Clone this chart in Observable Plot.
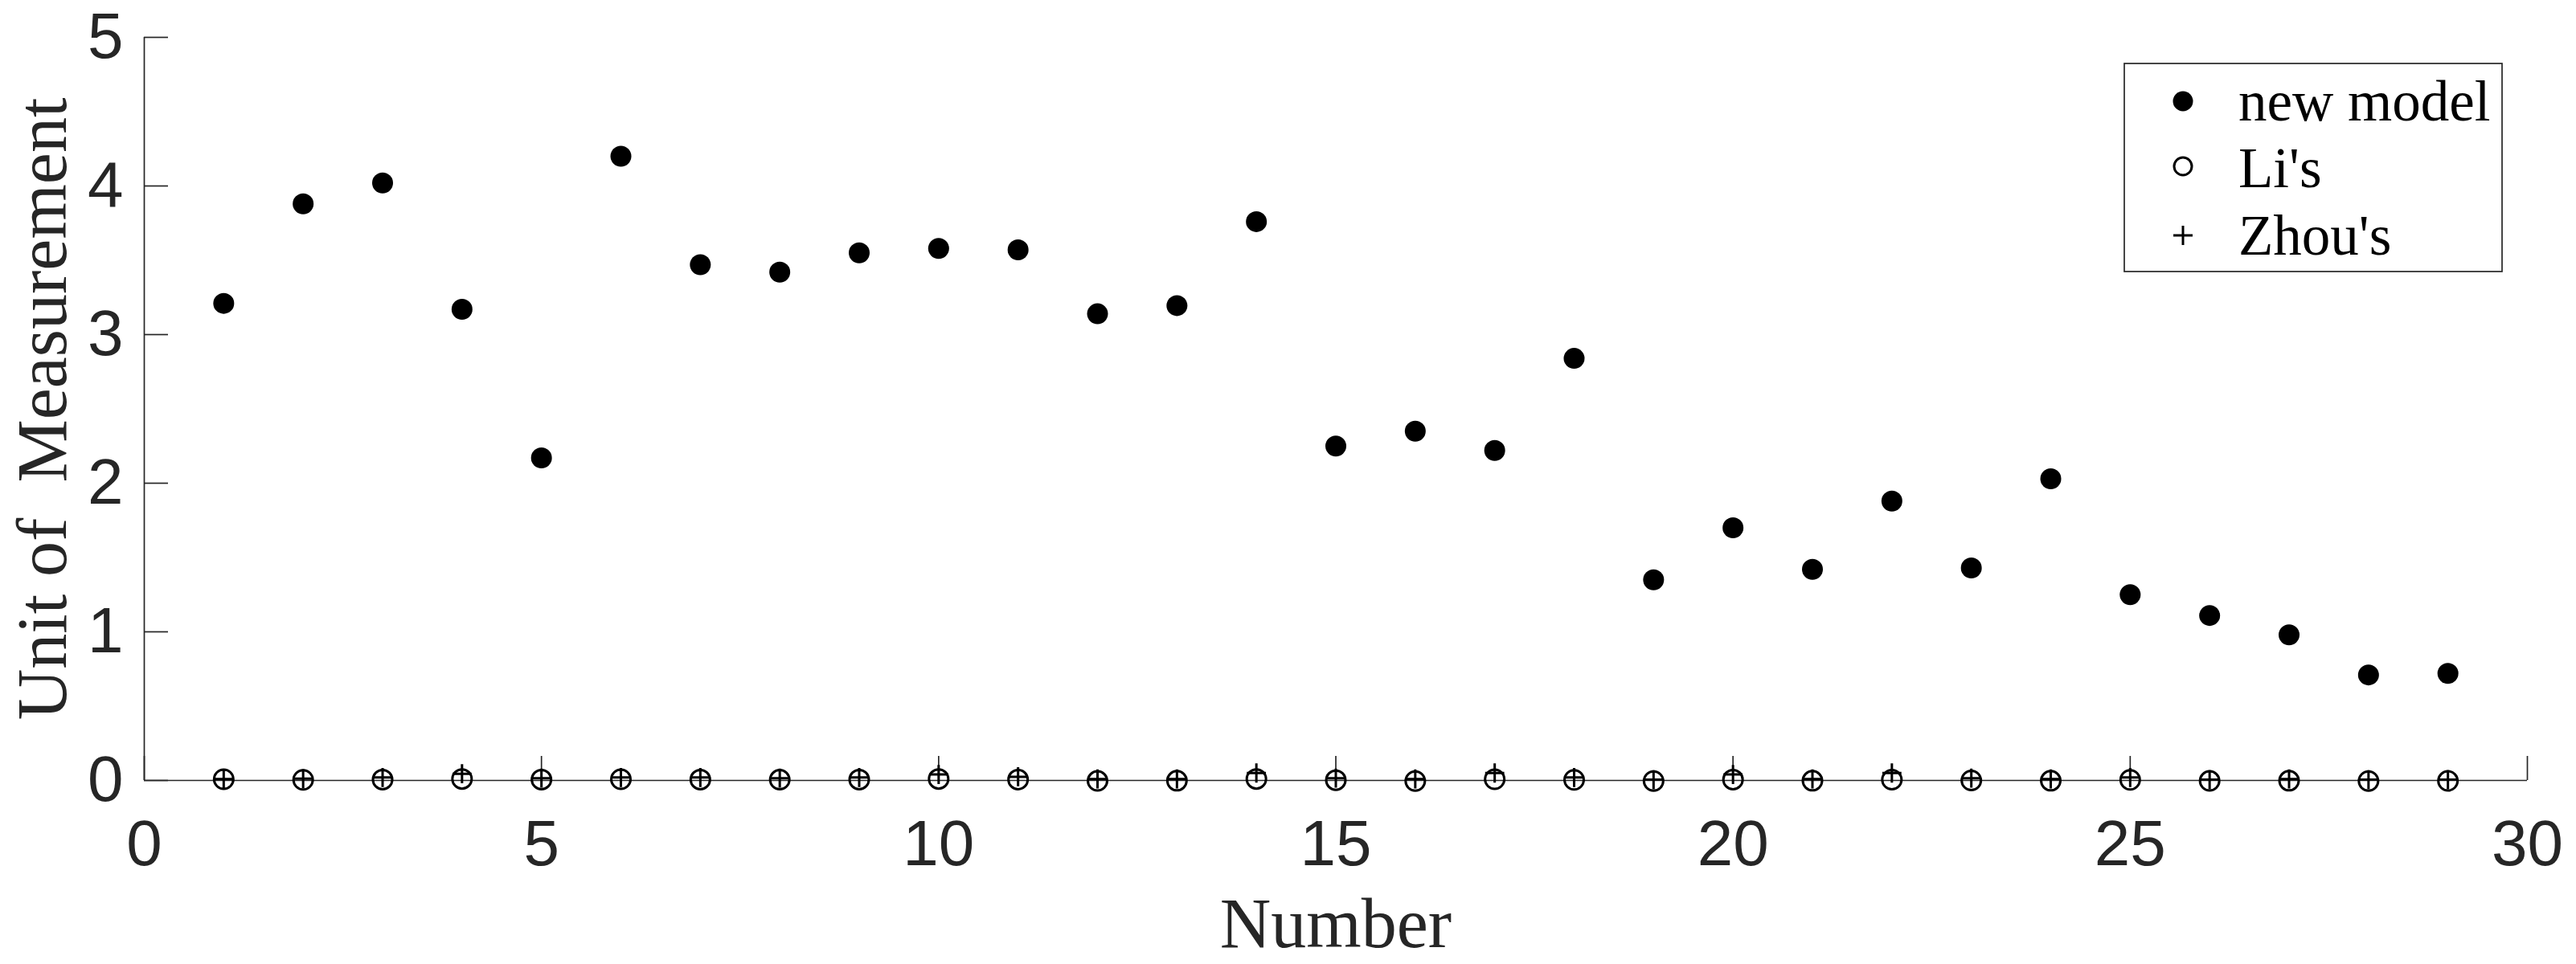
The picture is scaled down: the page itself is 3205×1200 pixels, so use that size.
<!DOCTYPE html>
<html>
<head>
<meta charset="utf-8">
<script src="https://cdn.jsdelivr.net/npm/d3@7"></script>
<script src="https://cdn.jsdelivr.net/npm/@observablehq/plot@0.6"></script>
<style>
  html, body { margin: 0; padding: 0; background: #fff; }
  #wrap { position: relative; width: 3205px; height: 1200px; }
</style>
</head>
<body>
<div id="wrap"></div>
<script>
// ---- data ----
const numbers = [1, 2, 3, 4, 5, 6, 7, 8, 9, 10, 11, 12, 13, 14, 15, 16, 17, 18, 19, 20, 21, 22, 23, 24, 25, 26, 27, 28, 29];
const newModel = [3.21, 3.88, 4.02, 3.17, 2.17, 4.20, 3.47, 3.42, 3.55, 3.58, 3.57, 3.14, 3.195, 3.76, 2.25, 2.35, 2.22, 2.84, 1.35, 1.70, 1.42, 1.88, 1.43, 2.03, 1.25, 1.11, 0.98, 0.71, 0.72];
const lis = [0.008, 0.004, 0.006, 0.01, 0.006, 0.008, 0.006, 0.005, 0.006, 0.01, 0.006, -0.003, -0.002, 0.01, 0.002, -0.004, 0.008, 0.004, -0.004, 0.006, -0.002, 0.005, 0.0, -0.002, 0.004, -0.003, -0.002, -0.004, -0.003];
const zhous = [0.01, 0.012, 0.02, 0.045, 0.015, 0.02, 0.02, 0.015, 0.02, 0.04, 0.025, 0.01, 0.01, 0.05, 0.015, 0.01, 0.05, 0.02, 0.005, 0.04, 0.01, 0.05, 0.015, 0.01, 0.02, 0.005, 0.01, 0.005, 0.005];
const seriesNames = ["new model", "Li's", "Zhou's"];
const xTicks = [0, 5, 10, 15, 20, 25, 30];
const yTicks = [0, 1, 2, 3, 4, 5];
const xLabel = "Number";
const yLabel = "Unit of\u00a0 Measurement";

const rows = numbers.map((n, i) => ({n, newModel: newModel[i], li: lis[i], zhou: zhous[i]}));
const axisColor = "#262626";
const serif = "'Liberation Serif', 'Times New Roman', Times, serif";

const chart = Plot.plot({
  width: 3205,
  height: 1200,
  marginLeft: 179,
  marginRight: 61,
  marginTop: 46,
  marginBottom: 229,
  x: {domain: [0, 30]},
  y: {domain: [0, 5]},
  style: {
    fontFamily: "'Liberation Sans', Arial, Helvetica, sans-serif",
    color: axisColor,
    background: "#fff",
    overflow: "visible"
  },
  marks: [
    Plot.ruleX([0], {stroke: axisColor, strokeWidth: 1.7}),
    Plot.ruleY([0], {stroke: axisColor, strokeWidth: 1.7}),
    Plot.ruleX(xTicks, {x: d => d, y1: 0, y2: 0, insetTop: -30, stroke: axisColor, strokeWidth: 1.7}),
    Plot.ruleY(yTicks, {y: d => d, x1: 0, x2: 0, insetRight: -30, stroke: axisColor, strokeWidth: 1.7}),
    Plot.axisX({ticks: xTicks, tickSize: 0, tickPadding: 49, fontSize: 80, label: null, tickFormat: d => String(d)}),
    Plot.axisY({ticks: yTicks, tickSize: 0, tickPadding: 26, fontSize: 80, label: null, tickFormat: d => String(d)}),
    Plot.dot(rows, {x: "n", y: "newModel", r: 13, fill: "black", stroke: "none"}),
    Plot.dot(rows, {x: "n", y: "li", r: 12, fill: "none", stroke: "black", strokeWidth: 3}),
    Plot.dot(rows, {x: "n", y: "zhou", r: 7.7, symbol: "plus", stroke: "black", strokeWidth: 3}),
    Plot.text([xLabel], {frameAnchor: "bottom", text: d => d, textAnchor: "middle", lineAnchor: "middle", dy: 179, fontSize: 88, fontFamily: serif, fill: axisColor}),
    Plot.text([yLabel], {frameAnchor: "left", text: d => d, textAnchor: "middle", lineAnchor: "middle", rotate: -90, dx: -126, fontSize: 88, fontFamily: serif, fill: axisColor})
  ]
});
document.getElementById("wrap").appendChild(chart);

// ---- legend (inside plot, top right) ----
const lg = d3.select("#wrap").append("svg")
  .attr("width", 473).attr("height", 262)
  .style("position", "absolute").style("left", "2642px").style("top", "78px");
lg.append("rect").attr("x", 1).attr("y", 1).attr("width", 470).attr("height", 259)
  .attr("fill", "#fff").attr("stroke", axisColor).attr("stroke-width", 1.7);
const rowY = [48, 129, 215];
const baseY = [72, 155, 239];
seriesNames.forEach((name, i) => {
  const g = lg.append("g").attr("transform", `translate(74,${rowY[i]})`);
  if (i === 0) g.append("circle").attr("r", 12.5).attr("fill", "black");
  else if (i === 1) g.append("circle").attr("r", 11).attr("fill", "none").attr("stroke", "black").attr("stroke-width", 3);
  else g.append("path").attr("d", "M-12,0H12M0,-12V12").attr("stroke", "black").attr("stroke-width", 3);
  lg.append("text").attr("x", 143).attr("y", baseY[i])
    .attr("font-family", serif).attr("font-size", 71).attr("fill", "black").text(name);
});
</script>
</body>
</html>
